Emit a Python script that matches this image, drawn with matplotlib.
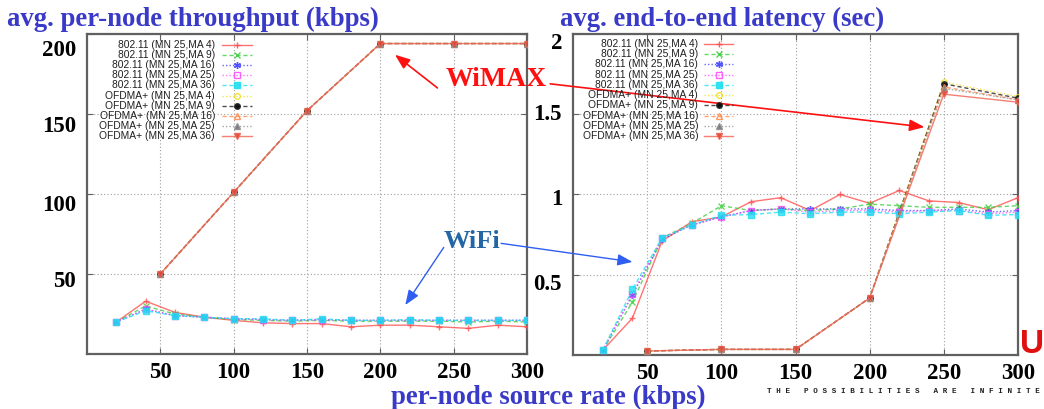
import matplotlib
matplotlib.use("Agg")
import matplotlib.pyplot as plt
from matplotlib.lines import Line2D
from matplotlib.transforms import ScaledTranslation

# ---------------- data ----------------
x_wifi = [20, 40, 60, 80, 100, 120, 140, 160, 180, 200, 220, 240, 260, 280, 300]
x_wimax = [50, 100, 150, 200, 250, 300]

labels = ["802.11 (MN 25,MA 4)", "802.11 (MN 25,MA 9)", "802.11 (MN 25,MA 16)",
          "802.11 (MN 25,MA 25)", "802.11 (MN 25,MA 36)",
          "OFDMA+ (MN 25,MA 4)", "OFDMA+ (MN 25,MA 9)", "OFDMA+ (MN 25,MA 16)",
          "OFDMA+ (MN 25,MA 25)", "OFDMA+ (MN 25,MA 36)"]

thr_wifi_ma4 = [20, 33, 26, 23, 21, 19.5, 19, 19, 17, 18, 18, 17, 16, 18, 17]
thr_wifi_ma9 = [20, 30, 25, 23, 21.5, 21, 20.5, 21, 20.5, 20.5, 20.5, 20.5, 20, 20.5, 20]
thr_wifi_ma16 = [20, 28, 24, 23, 22, 21.5, 21, 21.5, 21, 21, 21, 21, 21, 21, 21]
thr_wifi_ma25 = [20, 28, 24, 23, 22, 21.5, 21, 21.5, 21, 21, 21, 21, 21, 21, 21]
thr_wifi_ma36 = [20, 27, 24, 23, 22, 22, 21, 22, 21, 21, 21.5, 21, 21, 21, 21]

thr_wimax_ma4 = [50, 101, 152, 194, 194, 194]
thr_wimax_ma9 = [50, 101, 152, 194, 194, 194]
thr_wimax_ma16 = [50, 101, 152, 194, 194, 194]
thr_wimax_ma25 = [50, 101, 152, 194, 194, 194]
thr_wimax_ma36 = [50, 101, 152, 194, 194, 194]

lat_wifi_ma4 = [0.03, 0.23, 0.71, 0.83, 0.86, 0.955, 0.98, 0.90, 1.0, 0.945, 1.025, 0.96, 0.95, 0.905, 0.98]
lat_wifi_ma9 = [0.03, 0.33, 0.73, 0.82, 0.93, 0.90, 0.91, 0.90, 0.91, 0.94, 0.93, 0.92, 0.92, 0.92, 0.93]
lat_wifi_ma16 = [0.03, 0.375, 0.72, 0.81, 0.86, 0.90, 0.91, 0.91, 0.91, 0.91, 0.90, 0.90, 0.91, 0.89, 0.90]
lat_wifi_ma25 = [0.03, 0.38, 0.73, 0.81, 0.86, 0.90, 0.91, 0.89, 0.90, 0.90, 0.89, 0.90, 0.90, 0.88, 0.89]
lat_wifi_ma36 = [0.03, 0.41, 0.73, 0.81, 0.87, 0.875, 0.89, 0.88, 0.89, 0.89, 0.88, 0.89, 0.90, 0.87, 0.875]

lat_wimax_ma4 = [0.025, 0.035, 0.035, 0.355, 1.70, 1.61]
lat_wimax_ma9 = [0.025, 0.035, 0.035, 0.355, 1.69, 1.60]
lat_wimax_ma16 = [0.025, 0.035, 0.035, 0.355, 1.67, 1.59]
lat_wimax_ma25 = [0.025, 0.035, 0.035, 0.355, 1.66, 1.59]
lat_wimax_ma36 = [0.025, 0.035, 0.035, 0.355, 1.625, 1.575]

x_ticks = [50, 100, 150, 200, 250, 300]
thr_ticks = [50, 100, 150, 200]
lat_ticks = [0.5, 1, 1.5, 2]
lat_ticklabels = ["0.5", "1", "1.5", "2"]

# ---------------- styles ----------------
styles = [
    dict(color="#ff5050", ls="-", marker="+", ms=5, mfc="none"),
    dict(color="#40d040", ls=(0, (3, 2)), marker="x", ms=4, mfc="none"),
    dict(color="#4040ff", ls=(0, (1, 1.5)), marker=(6, 2, 0), ms=5, mfc="none"),
    dict(color="#ff50ff", ls=(0, (1, 1.5)), marker="s", ms=4, mfc="none"),
    dict(color="#20e0f0", ls=(0, (3, 2)), marker="s", ms=5, mfc="#20e0f0"),
    dict(color="#f0e020", ls=(0, (1, 1.5)), marker="o", ms=4, mfc="none"),
    dict(color="#202020", ls=(0, (3, 2)), marker="o", ms=4, mfc="#000000"),
    dict(color="#ff8c50", ls=(0, (3, 2)), marker="^", ms=4, mfc="none"),
    dict(color="#909090", ls=(0, (1, 1.5)), marker="^", ms=4, mfc="#707070"),
    dict(color="#f06050", ls="-", marker="v", ms=4, mfc="#e04030"),
]

serif = ["Liberation Serif", "DejaVu Serif"]
title_col = "#3a3ac8"

fig = plt.figure(figsize=(10.44, 4.09), dpi=100)
ax1 = fig.add_axes([0.0833, 0.1345, 0.4215, 0.7825])
ax2 = fig.add_axes([0.549, 0.132, 0.426, 0.785])

thr_wifi = [thr_wifi_ma4, thr_wifi_ma9, thr_wifi_ma16, thr_wifi_ma25, thr_wifi_ma36]
thr_wimax = [thr_wimax_ma4, thr_wimax_ma9, thr_wimax_ma16, thr_wimax_ma25, thr_wimax_ma36]
lat_wifi = [lat_wifi_ma4, lat_wifi_ma9, lat_wifi_ma16, lat_wifi_ma25, lat_wifi_ma36]
lat_wimax = [lat_wimax_ma4, lat_wimax_ma9, lat_wimax_ma16, lat_wimax_ma25, lat_wimax_ma36]


def draw(ax, wifi, wimax):
    for i, y in enumerate(wifi):
        s = styles[i]
        ax.plot(x_wifi, y, color=s["color"], ls=s["ls"], lw=1.0, marker=s["marker"],
                ms=s["ms"], mfc=s["mfc"], mec=s["color"], mew=1.0, alpha=0.8, zorder=3 + i * 0.1)
    for i, y in enumerate(wimax):
        s = styles[5 + i]
        ax.plot(x_wimax, y, color=s["color"], ls=s["ls"], lw=1.0, marker=s["marker"],
                ms=s["ms"], mfc=s["mfc"], mec=s["color"], mew=1.0, alpha=0.8, zorder=4 + i * 0.1)


def legend(ax, xr, xs0, xs1, y0, dy):
    for i, lab in enumerate(labels):
        y = y0 - i * dy
        s = styles[i]
        ax.text(xr, y, lab, transform=ax.transAxes, ha="right", va="center",
                fontsize=7.4, family=["Liberation Sans", "DejaVu Sans"], color="#202020", zorder=10)
        ax.add_line(Line2D([xs0, xs1], [y, y], transform=ax.transAxes, color=s["color"],
                           ls=s["ls"], lw=1.0, alpha=0.8, zorder=10))
        ax.add_line(Line2D([(xs0 + xs1) / 2], [y], transform=ax.transAxes, color=s["color"],
                           marker=s["marker"], ms=s["ms"], mfc=s["mfc"], mec=s["color"],
                           ls="none", alpha=0.9, zorder=10))


def style(ax, y_shift_px):
    for sp in ax.spines.values():
        sp.set_color("#606060")
        sp.set_linewidth(1.6)
    ax.grid(True, ls=(0, (1, 2)), color="#a0a0a0", lw=0.8)
    ax.tick_params(direction="in", top=True, right=True, length=4, color="#606060",
                   labelsize=16.5, pad=6)
    ax.tick_params(axis="y", pad=8)
    for t in ax.get_xticklabels() + ax.get_yticklabels():
        t.set_family(serif)
        t.set_fontweight("bold")
    for tick, d in zip(ax.yaxis.get_major_ticks(), y_shift_px):
        lab = tick.label1
        lab.set_transform(lab.get_transform() + ScaledTranslation(0, -d / 100, fig.dpi_scale_trans))


draw(ax1, thr_wifi, thr_wimax)
draw(ax2, lat_wifi, lat_wimax)
legend(ax1, 0.291, 0.307, 0.375, 0.966, 0.0317)
legend(ax2, 0.281, 0.294, 0.360, 0.969, 0.0319)

ax1.set_xlim(0, 300)
ax1.set_ylim(0, 200)
ax1.set_xticks(x_ticks)
ax1.set_yticks(thr_ticks)
ax2.set_xlim(0, 300)
ax2.set_ylim(0, 2)
ax2.set_xticks(x_ticks)
ax2.set_yticks(lat_ticks)
ax2.set_yticklabels(lat_ticklabels)
style(ax1, [5, 9, 10, 14])
style(ax2, [7, 3, -2, 7])

# titles
fig.text(0.007, 0.936, "avg. per-node throughput (kbps)", ha="left", va="baseline", fontsize=19.3,
         family=serif, fontweight="bold", color=title_col)
fig.text(0.536, 0.936, "avg. end-to-end latency (sec)", ha="left", va="baseline", fontsize=19.3,
         family=serif, fontweight="bold", color=title_col)
fig.text(0.525, 0.013, "per-node source rate (kbps)", ha="center", va="baseline", fontsize=19.3,
         family=serif, fontweight="bold", color=title_col)

# annotations
red = "#ff1010"
blue = "#2f5ff0"
fig.text(0.475, 0.805, "WiMAX", ha="center", va="center", fontsize=20, family=serif,
         fontweight="bold", color=red)
fig.text(0.452, 0.41, "WiFi", ha="center", va="center", fontsize=19, family=serif,
         fontweight="bold", color="#2366a6")
ap_r = dict(arrowstyle="-|>,head_length=0.9,head_width=0.35", color=red, lw=1.2, shrinkA=0, shrinkB=0)
ap_b = dict(arrowstyle="-|>,head_length=0.9,head_width=0.35", color=blue, lw=1.0, shrinkA=0, shrinkB=0)
ax1.annotate("", xy=(210, 187), xycoords="data", xytext=(0.419, 0.785), textcoords="figure fraction",
             arrowprops=ap_r, annotation_clip=False)
ax2.annotate("", xy=(237, 1.42), xycoords="data", xytext=(0.527, 0.795), textcoords="figure fraction",
             arrowprops=ap_r, annotation_clip=False)
ax1.annotate("", xy=(217, 30.6), xycoords="data", xytext=(0.425, 0.395), textcoords="figure fraction",
             arrowprops=ap_b, annotation_clip=False)
ax2.annotate("", xy=(40, 0.58), xycoords="data", xytext=(0.48, 0.405), textcoords="figure fraction",
             arrowprops=ap_b, annotation_clip=False)

# logo
fig.text(0.989, 0.157, "U", ha="center", va="center", fontsize=24, fontweight="bold",
         family=["Liberation Sans", "DejaVu Sans"], color="#e01010")
fig.text(0.865, 0.042, "T H E   P O S S I B I L I T I E S   A R E   I N F I N I T E", ha="center",
         va="center", fontsize=5.5, fontweight="bold", family=["Liberation Mono", "DejaVu Sans Mono"],
         color="#202020")

fig.savefig("out.png", dpi=100)
